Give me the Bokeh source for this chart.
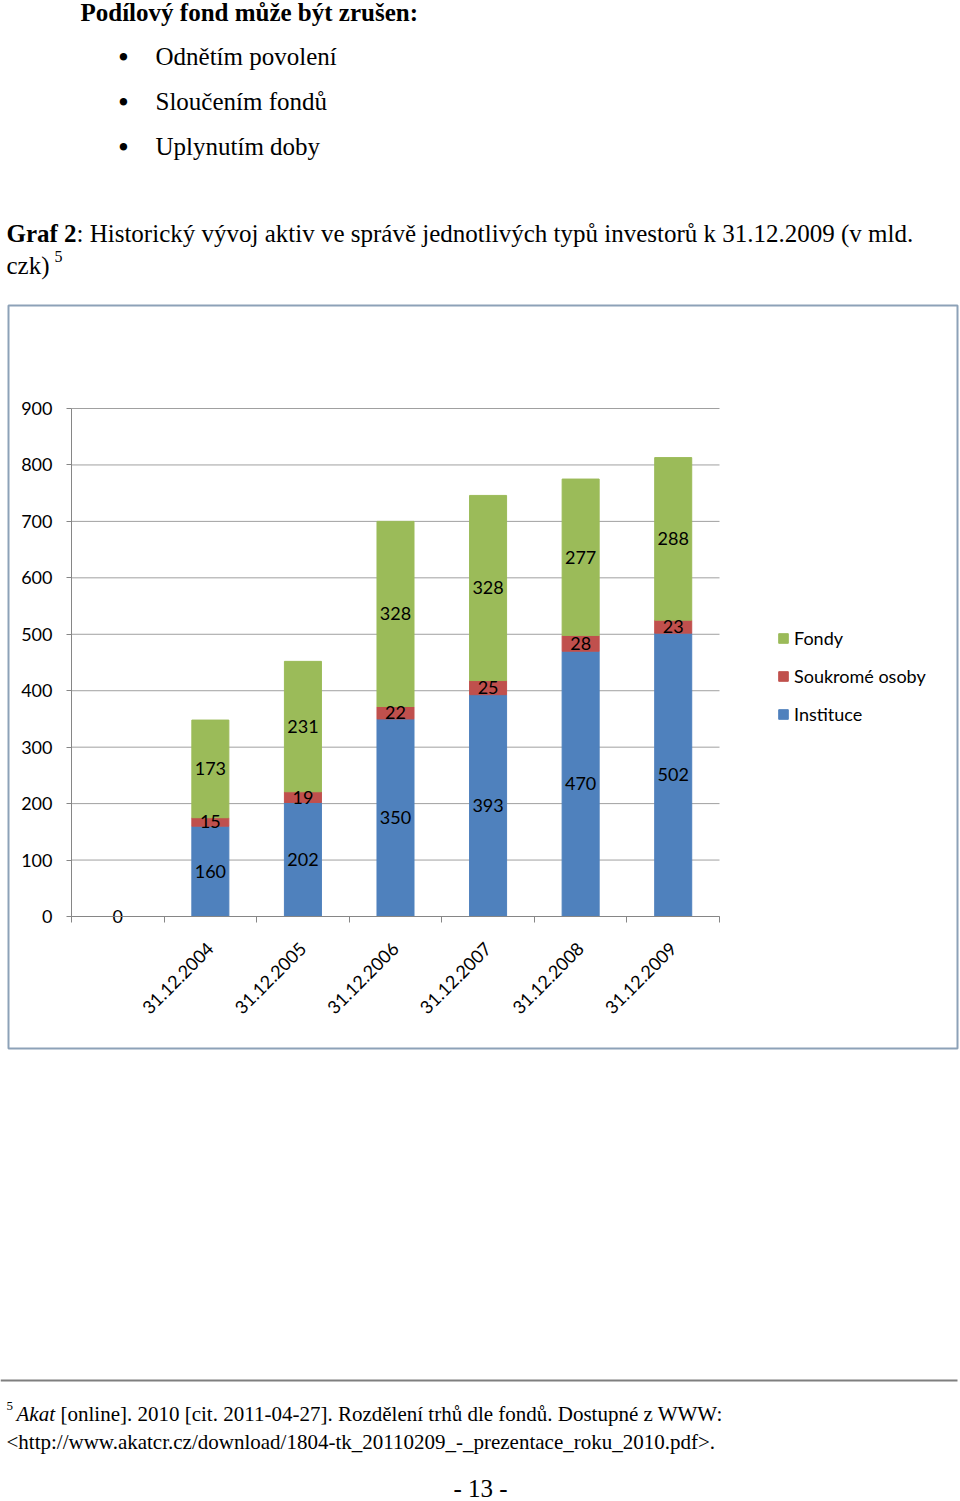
import numpy as np
from bokeh.plotting import figure
from bokeh.models import (Range1d, FixedTicker, ColumnDataSource, Legend,
                          LegendItem, LinearAxis)
from bokeh.embed import file_html
from bokeh.resources import INLINE
from bokeh.core.properties import value

# ---------------- data ----------------
categories = ["", "31.12.2004", "31.12.2005", "31.12.2006",
              "31.12.2007", "31.12.2008", "31.12.2009"]
instituce = [0, 160, 202, 350, 393, 470, 502]
soukrome = [0, 15, 19, 22, 25, 28, 23]
fondy = [0, 173, 231, 328, 328, 277, 288]
series_names = ["Instituce", "Soukromé osoby", "Fondy"]
series_values = [instituce, soukrome, fondy]
colors = ["#4f81bd", "#c0504d", "#9bbb59"]
y_ticks = [0, 100, 200, 300, 400, 500, 600, 700, 800, 900]

heading = "Podílový fond může být zrušen:"
bullets = ["Odnětím povolení", "Sloučením fondů", "Uplynutím doby"]
caption_bold = "Graf 2"
caption_rest = ": Historický vývoj aktiv ve správě jednotlivých typů investorů k 31.12.2009 (v mld."
caption_line2 = "czk)"
footnote_mark = "5"
footnote_italic = "Akat"
footnote_rest = "[online]. 2010 [cit. 2011-04-27]. Rozdělení trhů dle fondů. Dostupné z WWW:"
footnote_line2 = "<http://www.akatcr.cz/download/1804-tk_20110209_-_prezentace_roku_2010.pdf>."
page_number = "- 13 -"

SERIF = value("Liberation Serif")
SANS = "Lato"
PW, PH = 960, 1501

# chart plot-area placement on the page (pixels)
AX_L, AX_R = 71, 719          # category axis extent
Y0_PX, YTOP_PX = 916, 408     # pixel rows of value 0 and value 900
n = len(categories)
px_per_cat = (AX_R - AX_L) / n
px_per_val = (Y0_PX - YTOP_PX) / y_ticks[-1]

p = figure(width=PW, height=PH, x_range=Range1d(0, PW), y_range=Range1d(PH, 0),
           x_axis_type=None, y_axis_type=None, output_backend="svg",
           toolbar_location=None, min_border=0, outline_line_color=None)
p.extra_x_ranges = {"cat": Range1d((0 - AX_L) / px_per_cat, (PW - AX_L) / px_per_cat)}
p.extra_y_ranges = {"val": Range1d((Y0_PX - PH) / px_per_val, (Y0_PX - 0) / px_per_val)}

# ---------------- page text ----------------
def txt(x, y, t, size="25px", style="normal", align="left", font=SERIF):
    p.text(x=x, y=y, text=t, text_font=font, text_font_size=size,
           text_font_style=style, text_align=align, text_baseline="middle",
           text_color="black")

txt([80], [12], [heading], style="bold")
txt([123] * 3, [57, 102, 147], ["•"] * 3, size="31px", align="center")
txt([155] * 3, [56, 101, 146], bullets)
txt([6], [233], [caption_bold], style="bold")
txt([76], [233], [caption_rest])
txt([6], [265], [caption_line2])
txt([54], [256], [footnote_mark], size="16px")

# chart area border
p.quad(left=[8], right=[957], top=[305], bottom=[1048], fill_color=None,
       line_color="#8da2b8", line_width=2)

# ---------------- chart ----------------
x = [i + 0.5 for i in range(n)]
src = ColumnDataSource(dict(x=x, **{nm: v for nm, v in zip(series_names, series_values)}))

# horizontal gridlines
p.segment(x0=[0] * len(y_ticks), x1=[n] * len(y_ticks), y0=y_ticks, y1=y_ticks,
          line_color="#a0a0a0", line_width=1, x_range_name="cat", y_range_name="val")

renderers = p.vbar_stack(series_names, x="x", width=0.4, color=colors, source=src,
                         x_range_name="cat", y_range_name="val")

# data labels
lx, ly, lt = [], [], []
cum = np.zeros(n)
for k, vals in enumerate(series_values):
    vals = np.array(vals, dtype=float)
    for i, v in enumerate(vals):
        if v == 0 and k > 0:
            continue
        lx.append(x[i])
        ly.append(cum[i] + v / 2)
        lt.append(str(int(v)))
    cum = cum + vals
p.text(x=lx, y=ly, text=lt, text_font=value(SANS), text_font_size="18px",
       text_align="center", text_baseline="middle", text_color="black",
       x_range_name="cat", y_range_name="val")

# axes
xaxis = LinearAxis(x_range_name="cat", y_range_name="val", fixed_location=0,
                   bounds=(0, n))
xaxis.ticker = FixedTicker(ticks=x, minor_ticks=list(range(n + 1)))
xaxis.major_label_overrides = {xi: c for xi, c in zip(x, categories)}
xaxis.major_label_orientation = np.pi / 4
xaxis.major_tick_line_color = None
xaxis.major_tick_out = 0
xaxis.major_tick_in = 0
xaxis.minor_tick_line_color = "#868686"
xaxis.minor_tick_out = 6
xaxis.minor_tick_in = 0
xaxis.major_label_standoff = 23

yaxis = LinearAxis(x_range_name="cat", y_range_name="val", fixed_location=0,
                   bounds=(0, y_ticks[-1]))
yaxis.ticker = FixedTicker(ticks=y_ticks)
yaxis.minor_tick_line_color = None
yaxis.major_tick_out = 5
yaxis.major_tick_in = 0
yaxis.major_tick_line_color = "#868686"
yaxis.major_label_standoff = 14
for ax in (xaxis, yaxis):
    ax.axis_line_color = "#868686"
    ax.major_label_text_font = SANS
    ax.major_label_text_font_size = "18px"
    ax.major_label_text_color = "black"
p.add_layout(xaxis, "below")
p.add_layout(yaxis, "left")

legend = Legend(items=[LegendItem(label=series_names[k], renderers=[renderers[k]])
                       for k in (2, 1, 0)],
                location=(777, PH - 725), glyph_width=12, glyph_height=12,
                label_height=20, spacing=16, padding=0, margin=0,
                label_standoff=5, border_line_color=None,
                background_fill_alpha=0, label_text_font=SANS,
                label_text_font_size="18px", label_text_color="black")
p.add_layout(legend)

# ---------------- footnote ----------------
p.segment(x0=[0], y0=[1380], x1=[957], y1=[1380], line_color="#7f7f7f", line_width=2)
txt([6], [1405], [footnote_mark], size="13px")
txt([16], [1413], [footnote_italic], size="21px", style="italic")
txt([60], [1413], [footnote_rest], size="21px")
txt([6], [1441], [footnote_line2], size="21px")
txt([480], [1488], [page_number], align="center")

open("out.html", "w").write(file_html(p, INLINE))
